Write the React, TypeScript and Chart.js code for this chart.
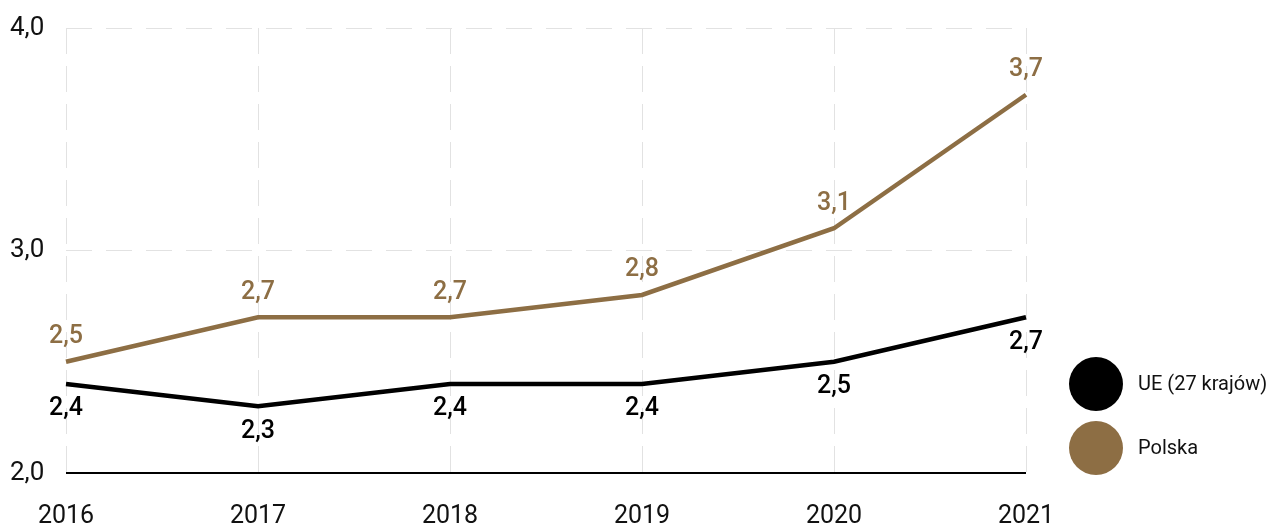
import { useEffect, useRef } from 'react';
import { Chart, registerables } from 'chart.js';

Chart.register(...registerables);

const years = ['2016', '2017', '2018', '2019', '2020', '2021'];
const ueValues = [2.4, 2.3, 2.4, 2.4, 2.5, 2.7];
const polskaValues = [2.5, 2.7, 2.7, 2.8, 3.1, 3.7];
const seriesNames = ['UE (27 krajów)', 'Polska'];
const yTickValues = [2, 3, 4];

const UE_COLOR = '#000000';
const PL_COLOR = '#8D6E44';
const FONT = 'Roboto';

const fmt = (v: number) => v.toFixed(1).replace('.', ',');

const valueLabelsPlugin = {
  id: 'valueLabels',
  afterDatasetsDraw(chart: any) {
    const ctx = chart.ctx;
    chart.data.datasets.forEach((ds: any, di: number) => {
      const meta = chart.getDatasetMeta(di);
      const dir = ds.labelDir || 1;
      ctx.save();
      ctx.font = `500 25px ${FONT}`;
      ctx.fillStyle = ds.borderColor;
      ctx.textAlign = 'center';
      ctx.textBaseline = 'middle';
      meta.data.forEach((pt: any, i: number) => {
        ctx.fillText(fmt(ds.data[i]), pt.x, pt.y + dir * 25);
      });
      ctx.restore();
    });
  },
};

const baselinePlugin = {
  id: 'baseline',
  beforeDatasetsDraw(chart: any) {
    const { ctx, chartArea, scales } = chart;
    const y = scales.y.getPixelForValue(yTickValues[0]);
    ctx.save();
    ctx.strokeStyle = '#000';
    ctx.lineWidth = 2;
    ctx.beginPath();
    ctx.moveTo(chartArea.left, y);
    ctx.lineTo(chartArea.right, y);
    ctx.stroke();
    ctx.restore();
  },
};

const circleLegendPlugin = {
  id: 'circleLegend',
  afterDraw(chart: any) {
    const { ctx, chartArea } = chart;
    chart.data.datasets.forEach((ds: any, i: number) => {
      const cx = chartArea.right + 70;
      const cy = chartArea.bottom - 89 + i * 64;
      ctx.save();
      ctx.fillStyle = ds.borderColor;
      ctx.beginPath();
      ctx.arc(cx, cy, 27, 0, Math.PI * 2);
      ctx.fill();
      ctx.fillStyle = '#111';
      ctx.font = `20px ${FONT}`;
      ctx.textAlign = 'left';
      ctx.textBaseline = 'middle';
      ctx.fillText(ds.label, chartArea.right + 112, cy + 1);
      ctx.restore();
    });
  },
};

export default function App() {
  const canvasRef = useRef<HTMLCanvasElement | null>(null);

  useEffect(() => {
    document.body.style.margin = '0';
    const canvas = canvasRef.current;
    if (!canvas) return;
    const chart = new Chart(canvas, {
      type: 'line',
      data: {
        labels: years,
        datasets: [
          {
            label: seriesNames[0],
            data: ueValues,
            borderColor: UE_COLOR,
            backgroundColor: UE_COLOR,
            borderWidth: 4.5,
            pointRadius: 0,
            tension: 0,
            labelDir: 1,
          } as any,
          {
            label: seriesNames[1],
            data: polskaValues,
            borderColor: PL_COLOR,
            backgroundColor: PL_COLOR,
            borderWidth: 4.5,
            pointRadius: 0,
            tension: 0,
            labelDir: -1,
          } as any,
        ],
      },
      options: {
        responsive: false,
        animation: false,
        layout: { padding: { top: 28, right: 248, left: 10, bottom: 0 } },
        plugins: {
          legend: { display: false },
          tooltip: { enabled: false },
        },
        scales: {
          x: {
            offset: false,
            grid: { color: '#e2e2e2', lineWidth: 1, drawTicks: false },
            border: { display: false, dash: [26, 12] },
            ticks: {
              color: '#111',
              font: { family: FONT, size: 25 },
              padding: 29,
              maxRotation: 0,
              autoSkip: false,
            },
            afterFit: (s: any) => {
              s.height = 56;
            },
          },
          y: {
            min: 2,
            max: 4,
            afterBuildTicks: (s: any) => {
              s.ticks = yTickValues.map((v) => ({ value: v }));
            },
            grid: {
              color: (c: any) => (c.tick && c.tick.value === yTickValues[0] ? 'rgba(0,0,0,0)' : '#e2e2e2'),
              lineWidth: 1,
              drawTicks: false,
            },
            border: { display: false, dash: [26, 14] },
            ticks: {
              color: '#111',
              font: { family: FONT, size: 26 },
              padding: 0,
              crossAlign: 'far',
              callback: (v: any) => fmt(Number(v)),
            },
            afterFit: (s: any) => {
              s.width = 56;
            },
          },
        },
      },
      plugins: [baselinePlugin, valueLabelsPlugin, circleLegendPlugin],
    });
    return () => chart.destroy();
  }, []);

  return (
    <div>
      <canvas ref={canvasRef} width={1274} height={529} style={{ display: 'block' }} />
    </div>
  );
}
